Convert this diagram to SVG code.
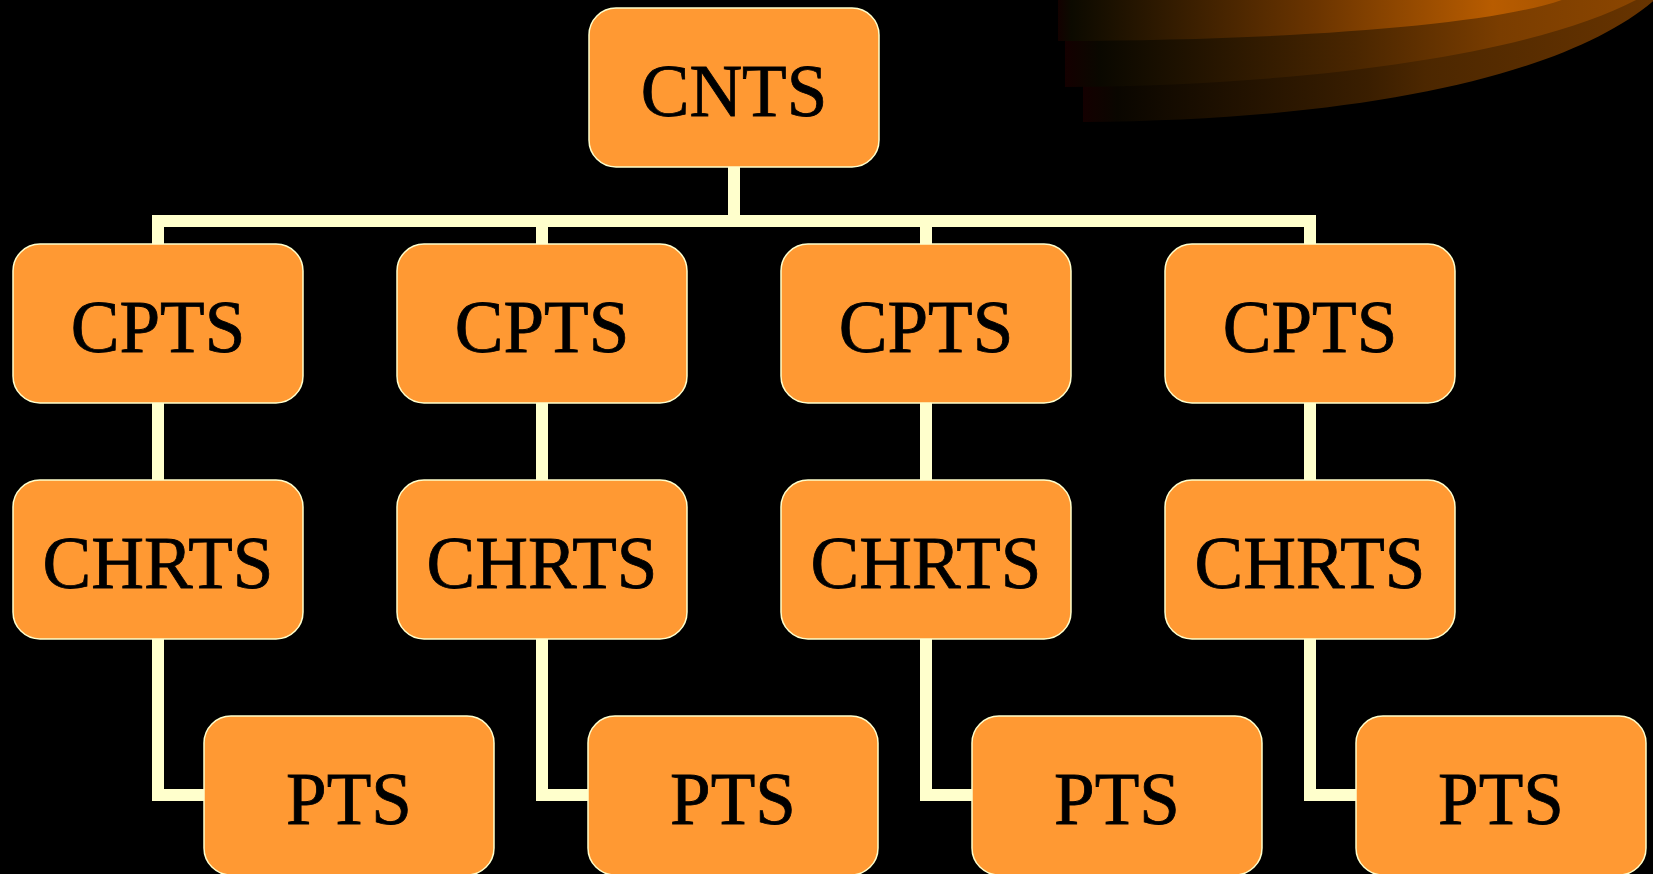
<svg xmlns="http://www.w3.org/2000/svg" width="1653" height="874" viewBox="0 0 1653 874">
<defs>
<style>
.box{fill:#FF9933;stroke:#FFFFCC;stroke-width:1.5}
.lbl{font-family:"Liberation Serif","Times New Roman",serif;font-size:73px;fill:#000;stroke:#000;stroke-width:0.8;text-anchor:middle}
.con{fill:none;stroke:#FFFFCC;stroke-width:12;stroke-linejoin:miter}
</style>
<linearGradient id="g1" gradientUnits="userSpaceOnUse" x1="1056" y1="0" x2="1570" y2="0">
<stop offset="0" stop-color="#140000"/><stop offset="0.03" stop-color="#0c0a00"/><stop offset="0.5" stop-color="#6a3400"/><stop offset="0.85" stop-color="#B85C00"/><stop offset="1" stop-color="#A85400"/>
</linearGradient>
<linearGradient id="g2" gradientUnits="userSpaceOnUse" x1="1065" y1="0" x2="1645" y2="0">
<stop offset="0" stop-color="#140000"/><stop offset="0.06" stop-color="#0a0800"/><stop offset="0.5" stop-color="#4a2600"/><stop offset="0.75" stop-color="#7a3d00"/><stop offset="1" stop-color="#8c4600"/>
</linearGradient>
<linearGradient id="g3" gradientUnits="userSpaceOnUse" x1="1083" y1="0" x2="1653" y2="0">
<stop offset="0" stop-color="#140000"/><stop offset="0.06" stop-color="#0a0600"/><stop offset="0.5" stop-color="#3a1e00"/><stop offset="0.6" stop-color="#4c2700"/><stop offset="1" stop-color="#683400"/>
</linearGradient>
</defs>
<rect x="0" y="0" width="1653" height="874" fill="#000"/>
<g id="decoration">
<path d="M1083,0 L1083,122 C1380,120 1580,70 1660,-5 L1660,0 Z" fill="url(#g3)"/>
<path d="M1065,0 L1065,87 C1350,85 1560,45 1645,-5 L1645,0 Z" fill="url(#g2)"/>
<path d="M1058,0 L1058,41 C1300,40 1500,25 1570,-3 L1570,0 Z" fill="url(#g1)"/>
</g>
<g id="connectors">
<path class="con" d="M734,167 V221"/>
<path class="con" d="M158,244 V221 H1310 V244"/>
<path class="con" d="M542,221 V244"/>
<path class="con" d="M926,221 V244"/>
<path class="con" d="M158,403 V480"/>
<path class="con" d="M542,403 V480"/>
<path class="con" d="M926,403 V480"/>
<path class="con" d="M1310,403 V480"/>
<path class="con" d="M158,639 V795 H204"/>
<path class="con" d="M542,639 V795 H588"/>
<path class="con" d="M926,639 V795 H972"/>
<path class="con" d="M1310,639 V795 H1356"/>
</g>
<g id="n-cnts"><rect class="box" x="589" y="8" width="290" height="159" rx="27"/><text class="lbl" x="734" y="116">CNTS</text></g>
<g id="n-cpts1"><rect class="box" x="13" y="244" width="290" height="159" rx="27"/><text class="lbl" x="158" y="352">CPTS</text></g>
<g id="n-cpts2"><rect class="box" x="397" y="244" width="290" height="159" rx="27"/><text class="lbl" x="542" y="352">CPTS</text></g>
<g id="n-cpts3"><rect class="box" x="781" y="244" width="290" height="159" rx="27"/><text class="lbl" x="926" y="352">CPTS</text></g>
<g id="n-cpts4"><rect class="box" x="1165" y="244" width="290" height="159" rx="27"/><text class="lbl" x="1310" y="352">CPTS</text></g>
<g id="n-chrts1"><rect class="box" x="13" y="480" width="290" height="159" rx="27"/><text class="lbl" x="158" y="588">CHRTS</text></g>
<g id="n-chrts2"><rect class="box" x="397" y="480" width="290" height="159" rx="27"/><text class="lbl" x="542" y="588">CHRTS</text></g>
<g id="n-chrts3"><rect class="box" x="781" y="480" width="290" height="159" rx="27"/><text class="lbl" x="926" y="588">CHRTS</text></g>
<g id="n-chrts4"><rect class="box" x="1165" y="480" width="290" height="159" rx="27"/><text class="lbl" x="1310" y="588">CHRTS</text></g>
<g id="n-pts1"><rect class="box" x="204" y="716" width="290" height="159" rx="27"/><text class="lbl" x="349" y="824">PTS</text></g>
<g id="n-pts2"><rect class="box" x="588" y="716" width="290" height="159" rx="27"/><text class="lbl" x="733" y="824">PTS</text></g>
<g id="n-pts3"><rect class="box" x="972" y="716" width="290" height="159" rx="27"/><text class="lbl" x="1117" y="824">PTS</text></g>
<g id="n-pts4"><rect class="box" x="1356" y="716" width="290" height="159" rx="27"/><text class="lbl" x="1501" y="824">PTS</text></g>
</svg>
